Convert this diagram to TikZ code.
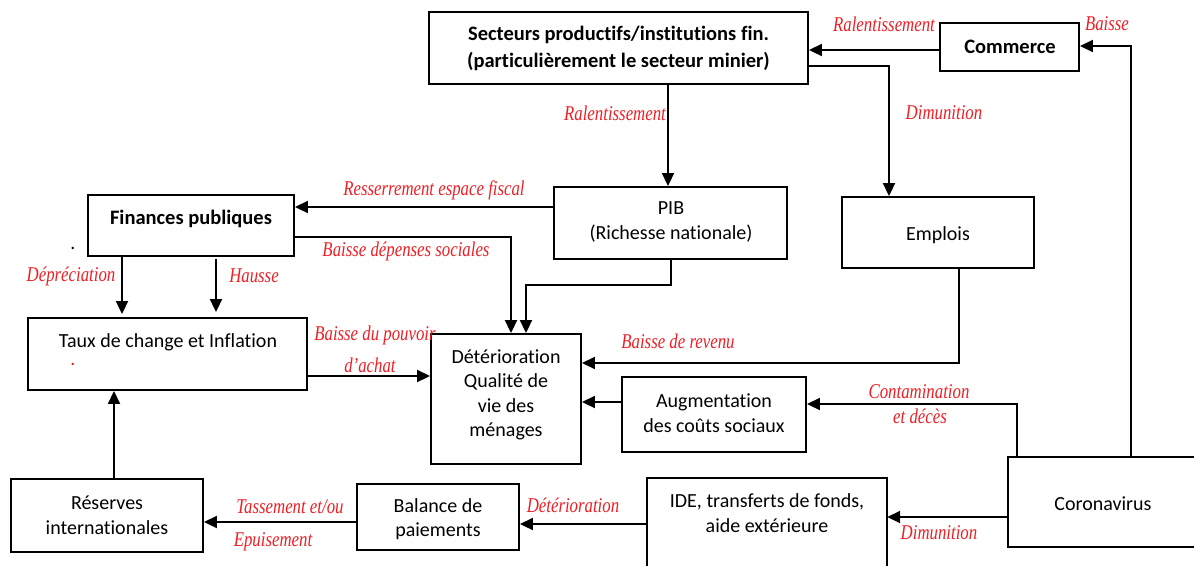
\documentclass[tikz,border=0pt]{standalone}
\usepackage{fontspec}
\setmainfont{Carlito}[Ligatures=NoCommon]
\newfontfamily\lblfont[FakeStretch=0.8]{Liberation Serif}
\usetikzlibrary{arrows.meta}
\definecolor{lblred}{RGB}{240,30,36}
\begin{document}
\begin{tikzpicture}[x=1pt,y=-1pt,
  box/.style={draw, line width=1.9pt, inner sep=0pt},
  frame/.style={line width=1.9pt},
  txt/.style={align=center, inner sep=0pt, font=\fontsize{20}{24.5}\selectfont},
  btxt/.style={align=center, inner sep=0pt, font=\fontsize{20.5}{27}\selectfont\bfseries},
  lbl/.style={inner sep=0pt, text=lblred, font=\lblfont\itshape\fontsize{21}{24}\selectfont},
  arr/.style={line width=1.9pt, -{Triangle[length=13pt,width=12pt]}},
]
\useasboundingbox (0,0) rectangle (1194,566);

% boxes
\node[box, minimum width=379pt, minimum height=72pt] (sect) at (618.5,48) {};
\node[btxt] (sectT) at (618.5,48.5) {Secteurs productifs/institutions fin.\\(particulièrement le secteur minier)};

\node[box, minimum width=139pt, minimum height=48pt] (comm) at (1009.5,47) {};
\node[btxt] (commT) at (1010,47) {Commerce};

\node[box, minimum width=233pt, minimum height=72pt] (pib) at (670.5,223) {};
\node[txt] (pibT) at (671,222) {PIB\\(Richesse nationale)};

\node[box, minimum width=192pt, minimum height=71pt] (empl) at (938,232.5) {};
\node[txt] (emplT) at (938,235) {Emplois};

\node[box, minimum width=206pt, minimum height=61pt] (fin) at (191,225.5) {};
\node[btxt] (finT) at (191,219) {Finances publiques};

\node[box, minimum width=279pt, minimum height=72pt] (taux) at (167.5,354) {};
\node[txt] (tauxT) at (168,342) {Taux de change et Inflation};
\node[txt, text=lblred] (tauxDot) at (73,364) {.};
\node[txt] (finDot) at (73,248) {.};

\node[box, minimum width=150pt, minimum height=130pt] (det) at (506,399) {};
\node[txt] (detT) at (506,395) {Détérioration\\Qualité de\\vie des\\ménages};

\node[box, minimum width=184pt, minimum height=75pt] (aug) at (714,414.5) {};
\node[txt] (augT) at (714,413) {Augmentation\\des coûts sociaux};

\node[minimum width=186pt, minimum height=90pt, inner sep=0pt] (coro) at (1101,502) {};
\draw[frame] (coro.north east) -- (coro.north west) -- (coro.south west) -- (coro.south east);
\node[txt] (coroT) at (1103,504) {Coronavirus};

\node[minimum width=240pt, minimum height=88pt, inner sep=0pt] (ide) at (767,522) {};
\draw[frame] (ide.south west) -- (ide.north west) -- (ide.north east) -- (ide.south east);
\node[txt] (ideT) at (767,513) {IDE, transferts de fonds,\\aide extérieure};

\node[box, minimum width=162pt, minimum height=66pt] (bal) at (438,517) {};
\node[txt] (balT) at (438,519) {Balance de\\paiements};

\node[box, minimum width=192pt, minimum height=73pt] (res) at (107,515.5) {};
\node[txt] (resT) at (107,515) {Réserves\\internationales};

% connectors
\draw[arr] (668,0 |- sect.south) -- (668,0 |- pib.north);
\draw[arr] (sect.east |- 0,66) -| (889,0 |- empl.north);
\draw[arr] (comm.west |- 0,50) -- (sect.east |- 0,50);
\draw[arr] (1131,0 |- coro.north) |- (comm.east |- 0,46);
\draw[arr] (pib.west |- 0,207) -- (fin.east |- 0,207);
\draw[arr] (fin.east |- 0,237) -| (511,0 |- det.north);
\draw[arr] (671,0 |- pib.south) |- (526,285) -- (526,0 |- det.north);
\draw[arr, shorten >=3pt] (122,0 |- fin.south) -- (122,0 |- taux.north);
\draw[arr, shorten >=5pt] (216,0 |- fin.south) ++(0,2) -- (216,0 |- taux.north);
\draw[arr] (taux.east |- 0,376) -- (det.west |- 0,376);
\draw[arr] (959,0 |- empl.south) |- (det.east |- 0,363);
\draw[arr] (aug.west |- 0,402) -- (det.east |- 0,402);
\draw[arr] (1017,0 |- coro.north) |- (aug.east |- 0,404);
\draw[arr] (coro.west |- 0,517) -- (ide.east |- 0,517);
\draw[arr] (ide.west |- 0,524) -- (bal.east |- 0,524);
\draw[arr] (bal.west |- 0,522) -- (res.east |- 0,522);
\draw[arr] (114,0 |- res.north) -- (114,0 |- taux.south);

% labels
\node[lbl] (l1) at (884,24) {Ralentissement};
\node[lbl] (l2) at (1107,24) {Baisse};
\node[lbl] (l3) at (615,113) {Ralentissement};
\node[lbl] (l4) at (944,113) {Dimunition};
\node[lbl] (l5) at (434,190) {Resserrement espace fiscal};
\node[lbl] (l6) at (406,251) {Baisse dépenses sociales};
\node[lbl] (l7) at (71,276) {Dépréciation};
\node[lbl] (l8) at (254,276) {Hausse};
\node[lbl] (l9) at (375,335) {Baisse du pouvoir};
\node[lbl] (l10) at (370,365) {d’achat};
\node[lbl] (l11) at (678,341) {Baisse de revenu};
\node[lbl] (l12) at (919,392) {Contamination};
\node[lbl] (l13) at (920,416) {et décès};
\node[lbl] (l14) at (939,533) {Dimunition};
\node[lbl] (l15) at (573,505) {Détérioration};
\node[lbl] (l16) at (290,507) {Tassement et/ou};
\node[lbl] (l17) at (273,542) {Epuisement};
\end{tikzpicture}
\end{document}
